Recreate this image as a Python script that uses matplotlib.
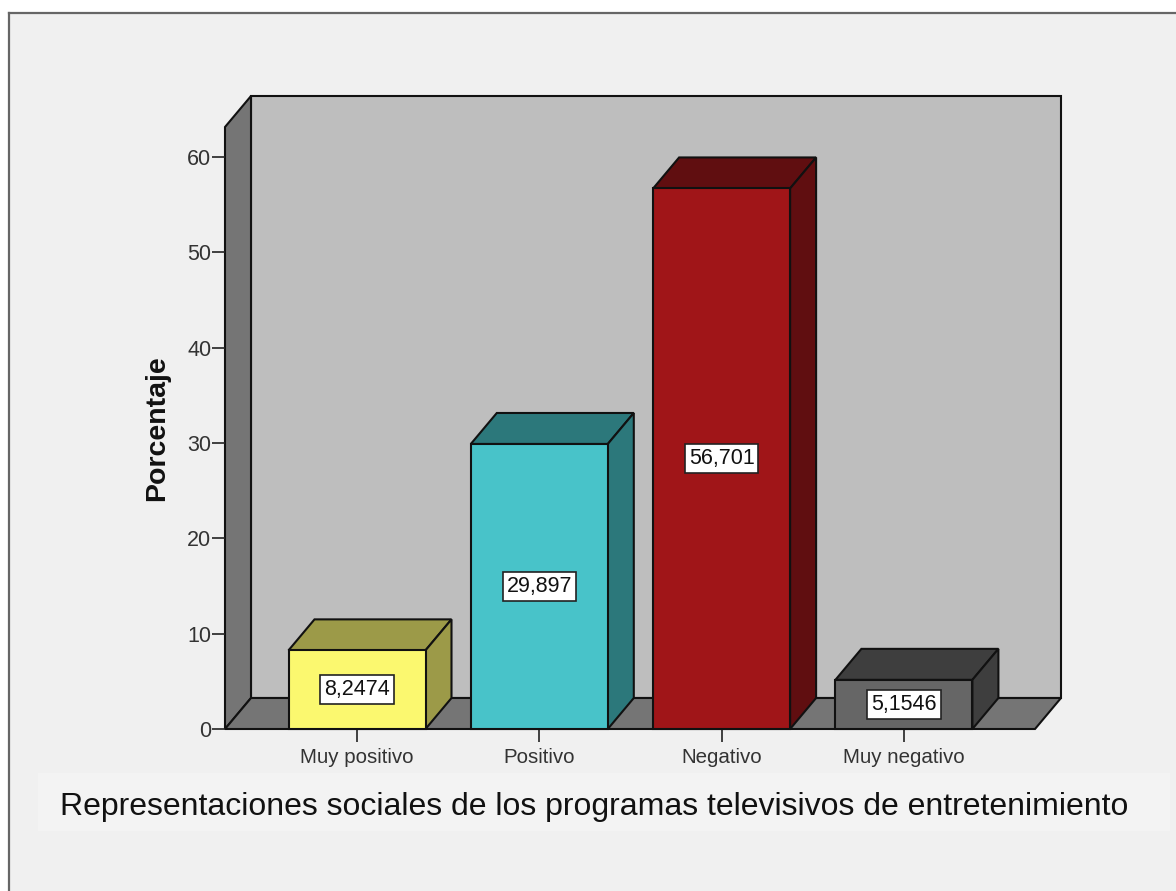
import matplotlib
matplotlib.use('Agg')
from matplotlib import pyplot as plt
from matplotlib.patches import Rectangle
from matplotlib.lines import Line2D

categories = ['Muy positivo', 'Positivo', 'Negativo', 'Muy negativo']
values = [8.2474, 29.897, 56.701, 5.1546]
value_labels = ['8,2474', '29,897', '56,701', '5,1546']
y_ticks = [0, 10, 20, 30, 40, 50, 60]
front_colors = ['#FBF86F', '#48C3C9', '#A01518', '#666666']
top_colors = ['#9C9A48', '#2C787B', '#600E10', '#3E3E3E']
side_colors = ['#9C9A48', '#2C787B', '#600E10', '#3E3E3E']

W, H = 1176, 891
plt.rcParams['font.family'] = ['Liberation Sans', 'DejaVu Sans']

fig = plt.figure(figsize=(W/100, H/100), dpi=100, facecolor='white')


def fx(px):
    return px/W


def fy(py):
    return 1 - py/H


# panel background and its frame (only left and top lines are visible)
fig.add_artist(Rectangle((fx(9), 0), 1 - fx(9), fy(13), transform=fig.transFigure,
                         facecolor='#F0F0F0', edgecolor='none', zorder=-5))
fig.add_artist(Rectangle((fx(38), fy(831)), fx(1132), 58/H, transform=fig.transFigure,
                         facecolor='#F3F3F3', edgecolor='none', zorder=-4))
fig.add_artist(Line2D([fx(9), fx(9)], [0, fy(13)], color='#666666', lw=1.6))
fig.add_artist(Line2D([fx(9), 1], [fy(13), fy(13)], color='#666666', lw=1.6))

# axes: 0 at y=729px, 60 at y=157px, first category at x=357px, 182px per category
ax = fig.add_axes([fx(225), fy(729), 836/W, 633/H])
PX_Y = 572/60
PX_X = 182.3
ax.set_xlim(-132/PX_X, 704/PX_X)
ax.set_ylim(0, 633/PX_Y)
ax.patch.set_visible(False)
for s in ax.spines.values():
    s.set_visible(False)

depth_x = 26/PX_X
depth_y = 31/PX_Y
bar_w = 137/PX_X
x0, x1 = ax.get_xlim()
y_top = ax.get_ylim()[1]
EDGE = '#111111'

# back wall, side wall and floor
ax.fill([x0+depth_x, x1, x1, x0+depth_x], [depth_y, depth_y, y_top, y_top],
        fc='#BEBEBE', ec=EDGE, lw=1.5, clip_on=False, zorder=1)
ax.fill([x0, x0+depth_x, x0+depth_x, x0], [0, depth_y, y_top, y_top-depth_y],
        fc='#757575', ec=EDGE, lw=1.5, clip_on=False, zorder=1)
ax.fill([x0, x0+depth_x, x1, x1-depth_x], [0, depth_y, depth_y, 0],
        fc='#757575', ec=EDGE, lw=1.5, clip_on=False, zorder=1)

xs = list(range(len(categories)))
for i, v in zip(xs, values):
    l, r = i - bar_w/2, i + bar_w/2
    ax.fill([l, l+depth_x, r+depth_x, r], [v, v+depth_y, v+depth_y, v],
            fc=top_colors[i], ec=EDGE, lw=1.5, clip_on=False, zorder=2)
    ax.fill([r, r+depth_x, r+depth_x, r], [0, depth_y, v+depth_y, v],
            fc=side_colors[i], ec=EDGE, lw=1.5, clip_on=False, zorder=2)
ax.bar(xs, values, width=bar_w, color=front_colors, edgecolor=EDGE, linewidth=1.5,
       clip_on=False, zorder=3)

for i, v in zip(xs, values):
    ax.text(i, v/2, value_labels[i], ha='center', va='center', fontsize=15.5, color='#111111',
            zorder=5, bbox=dict(boxstyle='square,pad=0.18', fc='white', ec='#222222', lw=1.2))

ax.set_yticks(y_ticks)
ax.set_xticks(xs)
ax.set_xticklabels(categories)
ax.tick_params(axis='y', length=9.4, width=1.2, color='#222222', labelsize=15.5,
               labelcolor='#333333', pad=0.5)
ax.tick_params(axis='x', length=9.4, width=1.2, color='#222222', labelsize=14.8,
               labelcolor='#333333', pad=4)

fig.text(fx(157), fy(428), 'Porcentaje', rotation=90, ha='center', va='center',
         fontsize=20.5, fontweight='bold', color='#111111')
fig.text(fx(594), fy(807), 'Representaciones sociales de los programas televisivos de entretenimiento',
         ha='center', va='center', fontsize=23, color='#111111')

fig.savefig('out.png', dpi=100)
